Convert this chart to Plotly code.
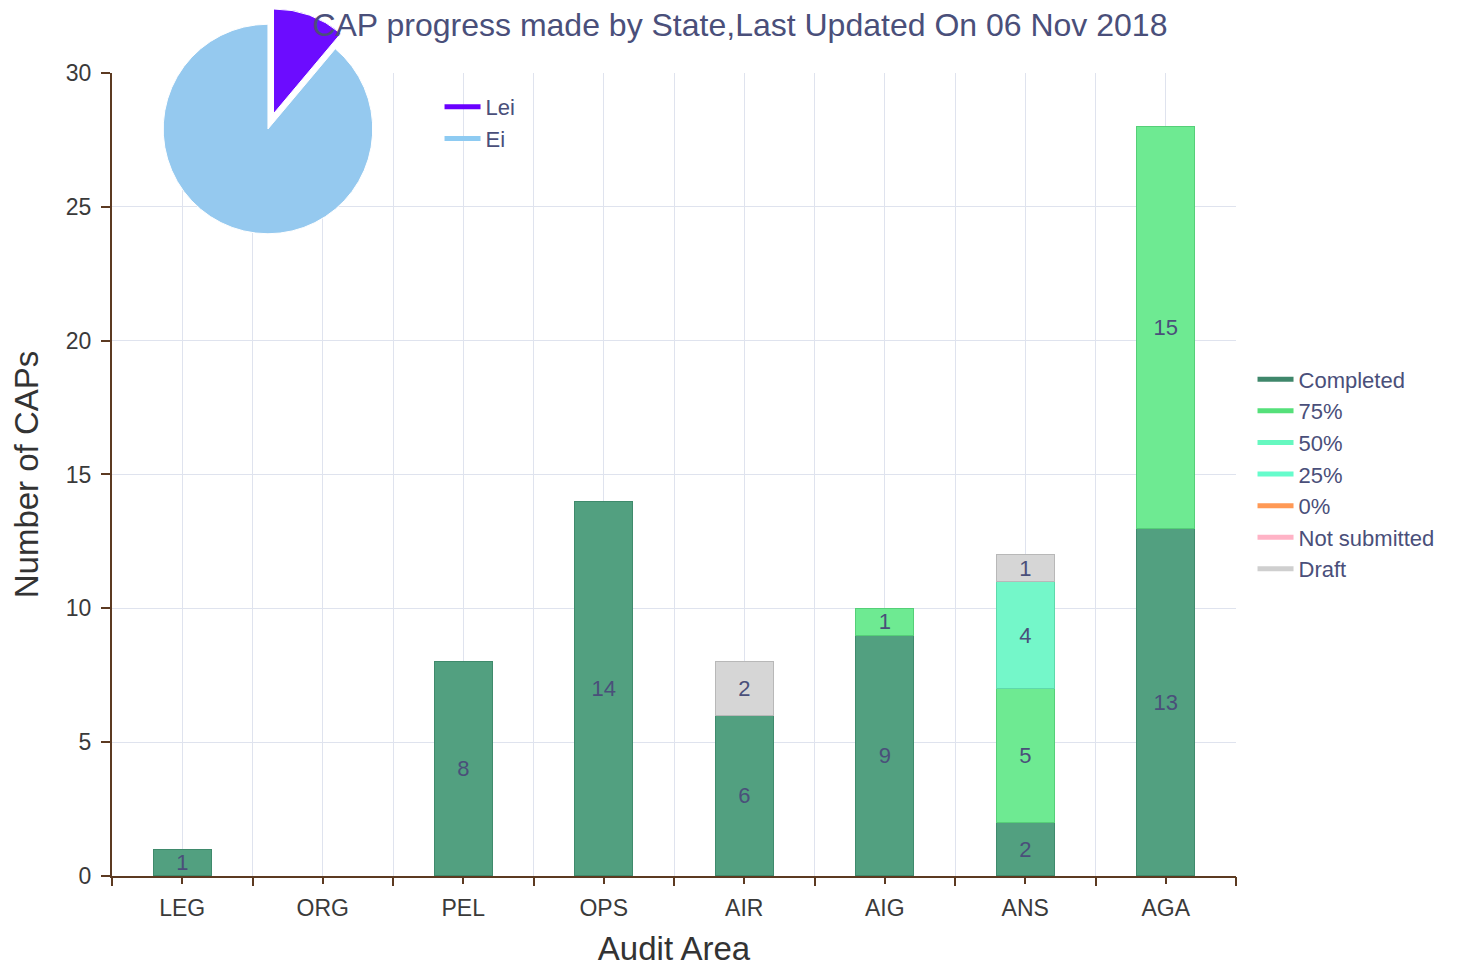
import plotly.graph_objects as go

# ---- data ----
categories = ["LEG", "ORG", "PEL", "OPS", "AIR", "AIG", "ANS", "AGA"]
completed = [1, 0, 8, 14, 6, 9, 2, 13]
pct75 = [0, 0, 0, 0, 0, 1, 5, 15]
pct50 = [0, 0, 0, 0, 0, 0, 4, 0]
pct25 = [0, 0, 0, 0, 0, 0, 0, 0]
pct0 = [0, 0, 0, 0, 0, 0, 0, 0]
not_submitted = [0, 0, 0, 0, 0, 0, 0, 0]
draft = [0, 0, 0, 0, 2, 0, 1, 0]

pie_labels = ["Lei", "Ei"]
pie_values = [9, 72]

title_text = "CAP progress made by State,Last Updated On 06 Nov 2018"

FONT = "Liberation Sans, Arial, sans-serif"
LABEL_COLOR = "#4a4f7a"
AXIS_COLOR = "#5c3a21"
GRID = "#dfe3ee"

series = [
    ("Completed", completed, "#52a080", "#3f8a6c", "#3f876b"),
    ("75%", pct75, "#6eea92", "#55cf78", "#55e07a"),
    ("50%", pct50, "#74f7c9", "#5ed9ab", "#66f8c0"),
    ("25%", pct25, "#6dfccc", "#5ad9ad", "#66fccc"),
    ("0%", pct0, "#ff9955", "#e07f40", "#ff9955"),
    ("Not submitted", not_submitted, "#ffb6c8", "#e09aaa", "#ffb3c6"),
    ("Draft", draft, "#d6d6d6", "#b8b8b8", "#cfcfcf"),
]

fig = go.Figure()

for name, vals, fill, edge, leg in series:
    fig.add_trace(go.Bar(
        x=categories,
        y=[v if v else None for v in vals],
        text=[str(v) if v else "" for v in vals],
        name=name,
        marker=dict(color=fill, line=dict(color=edge, width=1)),
        textposition="inside",
        insidetextanchor="middle",
        constraintext="none",
        textangle=0,
        textfont=dict(family=FONT, size=22, color=LABEL_COLOR),
        showlegend=False,
        hoverinfo="x+y+name",
    ))

# legend entries drawn as lines (like the reference)
for name, vals, fill, edge, leg in series:
    fig.add_trace(go.Scatter(
        x=[None], y=[None], mode="lines", name=name,
        line=dict(color=leg, width=5), legend="legend",
    ))

# invisible trace to carry categories on the boundary-grid axis
fig.add_trace(go.Scatter(
    x=categories, y=[0] * len(categories), mode="markers",
    marker=dict(size=1, opacity=0), xaxis="x2", yaxis="y",
    showlegend=False, hoverinfo="skip",
))

# pie
fig.add_trace(go.Pie(
    labels=pie_labels, values=pie_values,
    marker=dict(colors=["#6c0cff", "#95c9ef"], line=dict(color="white", width=1)),
    pull=[0.155, 0],
    sort=False, direction="clockwise", rotation=0,
    textinfo="none", showlegend=False,
    domain=dict(x=[0.0311, 0.2464], y=[0.7212, 1.0]),
))
for lab, col in zip(pie_labels, ["#6a00ff", "#8ecbf2"]):
    fig.add_trace(go.Scatter(
        x=[None], y=[None], mode="lines", name=lab,
        line=dict(color=col, width=5), legend="legend2",
    ))

fig.update_layout(
    width=1458, height=967,
    margin=dict(l=104, r=230, t=0, b=99, autoexpand=False),
    paper_bgcolor="white", plot_bgcolor="white",
    barmode="stack", bargap=0.587,
    font=dict(family=FONT, size=22, color="#333333"),
    title=dict(text=title_text, x=0.502, xanchor="center", y=0.983, yanchor="middle",
               font=dict(family=FONT, size=32, color=LABEL_COLOR)),
    xaxis=dict(
        type="category", categoryorder="array", categoryarray=categories,
        showgrid=True, gridcolor=GRID, gridwidth=1,
        showline=True, linecolor=AXIS_COLOR, linewidth=2,
        ticks="outside", ticklen=6, tickcolor=AXIS_COLOR, tickwidth=2,
        ticklabelstandoff=4,
        tickfont=dict(family=FONT, size=23, color="#3a3a3a"),
        title=dict(text="Audit Area", font=dict(family=FONT, size=33, color="#333333"), standoff=17),
        zeroline=False, automargin=False,
    ),
    xaxis2=dict(
        type="category", categoryorder="array", categoryarray=categories,
        overlaying="x", matches="x", anchor="y", side="bottom",
        tickson="boundaries", showgrid=True, gridcolor=GRID, gridwidth=1,
        ticks="outside", ticklen=9, tickcolor=AXIS_COLOR, tickwidth=2,
        showticklabels=False, showline=False, automargin=False,
    ),
    yaxis=dict(
        domain=[0, 0.92512], range=[0, 30], dtick=5,
        showgrid=True, gridcolor=GRID, gridwidth=1,
        showline=True, linecolor=AXIS_COLOR, linewidth=2,
        ticks="outside", ticklen=9, tickcolor=AXIS_COLOR, tickwidth=2,
        ticklabelstandoff=5,
        tickfont=dict(family=FONT, size=23, color="#3a3a3a"),
        title=dict(text="Number of CAPs", font=dict(family=FONT, size=33, color="#333333"), standoff=20),
        zeroline=False, automargin=False,
    ),
    legend=dict(
        x=1.0147, xanchor="left", y=0.4626, yanchor="middle",
        traceorder="normal", bgcolor="rgba(0,0,0,0)", itemwidth=36,
        font=dict(family=FONT, size=22, color=LABEL_COLOR),
        tracegroupgap=0,
    ),
    legend2=dict(
        x=0.2914, xanchor="left", y=0.8675, yanchor="middle",
        traceorder="normal", bgcolor="rgba(0,0,0,0)", itemwidth=36,
        font=dict(family=FONT, size=22, color=LABEL_COLOR),
    ),
)

fig.write_html("out.html")
